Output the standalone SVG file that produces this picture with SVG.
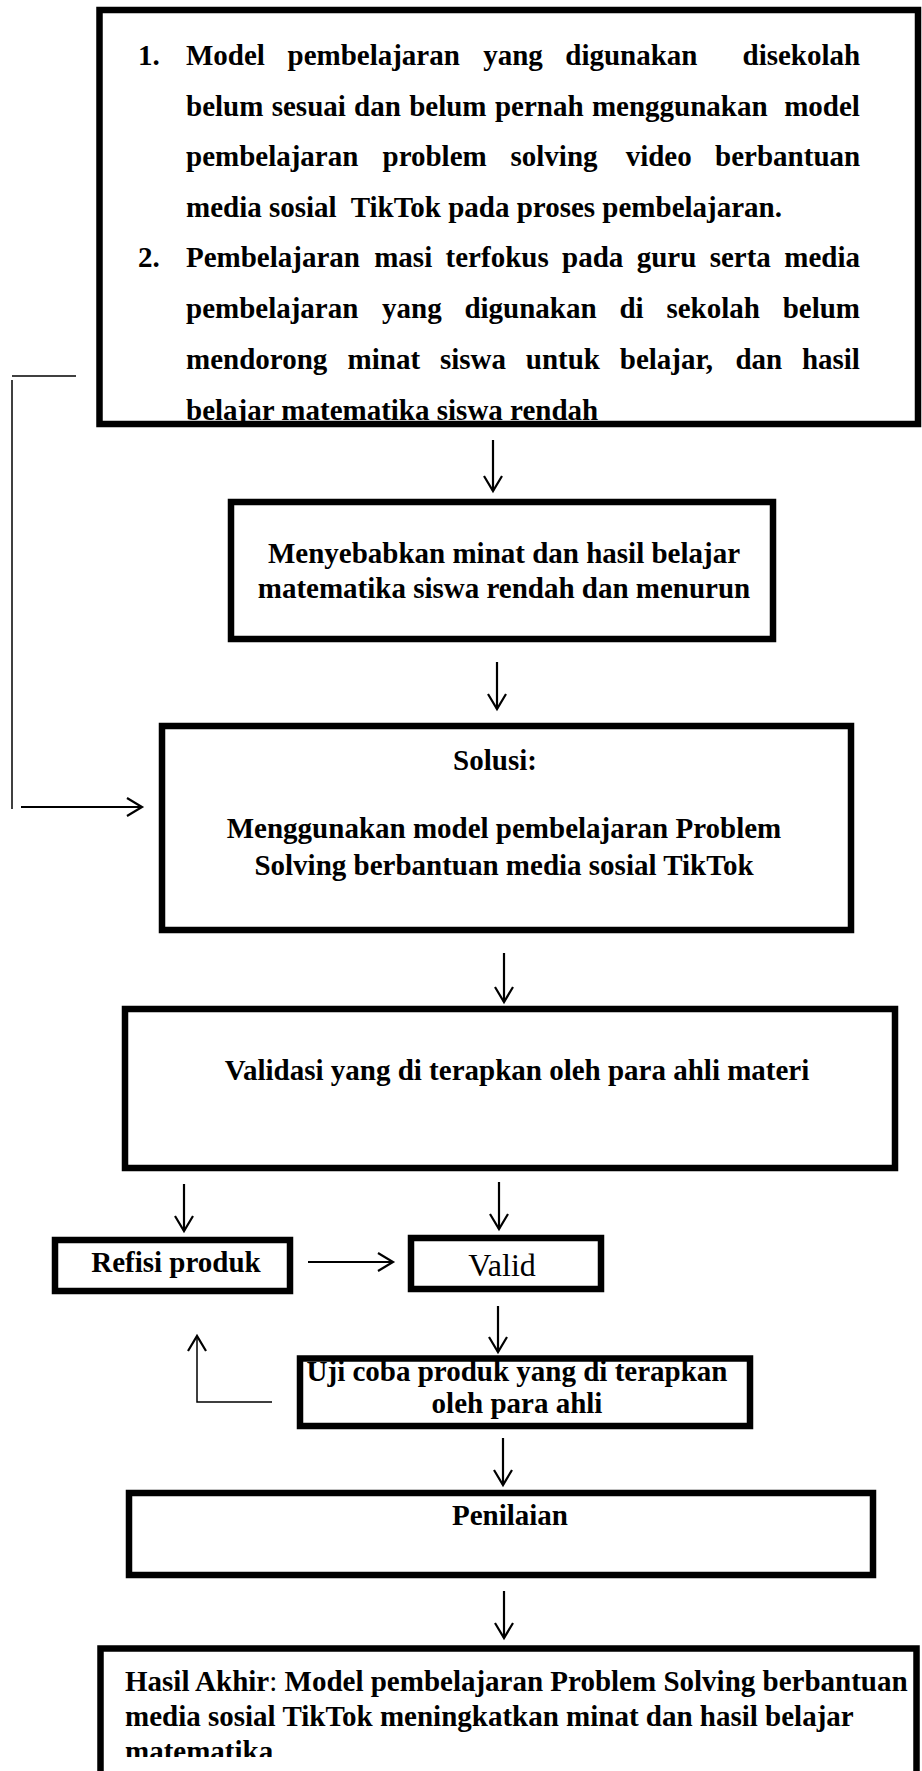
<svg xmlns="http://www.w3.org/2000/svg" width="922" height="1771" viewBox="0 0 922 1771">
<style>
.box{fill:none;stroke:#000;stroke-width:6.5}
.b{font-family:"Liberation Serif","Times New Roman",serif;font-weight:bold;font-size:29px;fill:#000}
.r{font-family:"Liberation Serif","Times New Roman",serif;font-weight:normal;fill:#000}
.c{text-anchor:middle}
.ln{fill:none;stroke:#000;stroke-width:2.2}
.thin{fill:none;stroke:#000;stroke-width:1.5}
</style>
<defs>
<marker id="ah" markerUnits="userSpaceOnUse" markerWidth="30" markerHeight="30" viewBox="-20 -15 25 30" refX="0" refY="0" orient="auto">
<path d="M-15,-9 L0,0 L-15,9" fill="none" stroke="#000" stroke-width="2.2"/>
</marker>
<clipPath id="cut"><rect x="0" y="0" width="922" height="1757"/></clipPath>
</defs>

<g id="node-problems">
<text class="b"><tspan x="138" y="65">1.</tspan><tspan x="186">Model</tspan><tspan x="287.5">pembelajaran</tspan><tspan x="483.2">yang</tspan><tspan x="565.3">digunakan</tspan><tspan x="742.5">disekolah</tspan></text>
<text class="b" y="115.6"><tspan x="186">belum</tspan><tspan x="271.7">sesuai</tspan><tspan x="354.1">dan</tspan><tspan x="409.2">belum</tspan><tspan x="494.9">pernah</tspan><tspan x="591.9">menggunakan</tspan><tspan x="784.2">model</tspan></text>
<text class="b" y="166.2"><tspan x="186">pembelajaran</tspan><tspan x="382.5">problem</tspan><tspan x="510.5">solving</tspan><tspan x="625.7">video</tspan><tspan x="715.1">berbantuan</tspan></text>
<text class="b" x="186" y="216.8" xml:space="preserve">media sosial  TikTok pada proses pembelajaran.</text>
<text class="b" y="267.4"><tspan x="138">2.</tspan><tspan x="186">Pembelajaran</tspan><tspan x="374.2">masi</tspan><tspan x="445.6">terfokus</tspan><tspan x="562.1">pada</tspan><tspan x="636.7">guru</tspan><tspan x="709.7">serta</tspan><tspan x="784.3">media</tspan></text>
<text class="b" y="318"><tspan x="186">pembelajaran</tspan><tspan x="382">yang</tspan><tspan x="464.4">digunakan</tspan><tspan x="619.4">di</tspan><tspan x="666.4">sekolah</tspan><tspan x="782.7">belum</tspan></text>
<text class="b" y="368.6"><tspan x="186">mendorong</tspan><tspan x="347.6">minat</tspan><tspan x="439.9">siswa</tspan><tspan x="525.8">untuk</tspan><tspan x="619.8">belajar,</tspan><tspan x="735.4">dan</tspan><tspan x="801.9">hasil</tspan></text>
<text class="b" x="186" y="420">belajar matematika siswa rendah</text>
<rect class="box" x="99.5" y="10" width="818.5" height="414"/>
</g>

<g id="node-cause">
<rect class="box" x="231" y="502" width="542" height="137"/>
<text class="b c" x="504" y="563">Menyebabkan minat dan hasil belajar</text>
<text class="b c" x="504" y="598">matematika siswa rendah dan menurun</text>
</g>

<g id="node-solusi">
<rect class="box" x="162" y="726" width="689" height="204"/>
<text class="b c" x="495" y="770">Solusi:</text>
<text class="b c" x="504" y="838">Menggunakan model pembelajaran Problem</text>
<text class="b c" x="504" y="875">Solving berbantuan media sosial TikTok</text>
</g>

<g id="node-validasi">
<rect class="box" x="125" y="1009" width="770" height="159"/>
<text class="b c" x="517" y="1080">Validasi yang di terapkan oleh para ahli materi</text>
</g>

<g id="node-refisi">
<rect class="box" x="55" y="1240" width="235" height="51"/>
<text class="b c" x="176" y="1272">Refisi produk</text>
</g>

<g id="node-valid">
<rect class="box" x="411" y="1238" width="190" height="51"/>
<text class="r c" x="502" y="1276" font-size="32">Valid</text>
</g>

<g id="node-uji">
<rect class="box" x="300" y="1358.5" width="450" height="67.5"/>
<text class="b c" x="517" y="1381">Uji coba produk yang di terapkan</text>
<text class="b c" x="517" y="1413">oleh para ahli</text>
</g>

<g id="node-penilaian">
<rect class="box" x="129" y="1493" width="744" height="82"/>
<text class="b c" x="510" y="1525">Penilaian</text>
</g>

<g id="node-hasil">
<g clip-path="url(#cut)">
<text class="b" x="125" y="1691">Hasil Akhir<tspan font-weight="normal">:</tspan> Model pembelajaran Problem Solving berbantuan</text>
<text class="b" x="125" y="1726">media sosial TikTok meningkatkan minat dan hasil belajar</text>
<text class="b" x="125" y="1761">matematika</text>
</g>
<rect class="box" x="100.5" y="1648.5" width="816" height="200"/>
</g>

<g id="connectors">
<line class="ln" x1="493" y1="440" x2="493" y2="491" marker-end="url(#ah)"/>
<line class="ln" x1="497" y1="662" x2="497" y2="709" marker-end="url(#ah)"/>
<line class="ln" x1="504" y1="953" x2="504" y2="1002" marker-end="url(#ah)"/>
<line class="ln" x1="184" y1="1184" x2="184" y2="1231" marker-end="url(#ah)"/>
<line class="ln" x1="499" y1="1182" x2="499" y2="1229" marker-end="url(#ah)"/>
<line class="ln" x1="308" y1="1262" x2="393" y2="1262" stroke-width="2.6" marker-end="url(#ah)"/>
<line class="ln" x1="498" y1="1306" x2="498" y2="1352" marker-end="url(#ah)"/>
<line class="ln" x1="503" y1="1438" x2="503" y2="1485" marker-end="url(#ah)"/>
<line class="ln" x1="504" y1="1591" x2="504" y2="1638" marker-end="url(#ah)"/>
<line class="thin" x1="12" y1="376" x2="76" y2="376"/>
<line class="thin" x1="12" y1="380" x2="12" y2="809"/>
<line class="ln" x1="21" y1="807" x2="142" y2="807" marker-end="url(#ah)"/>
<polyline class="thin" points="272,1402 197,1402 197,1336" marker-end="url(#ah)"/>
</g>
</svg>
